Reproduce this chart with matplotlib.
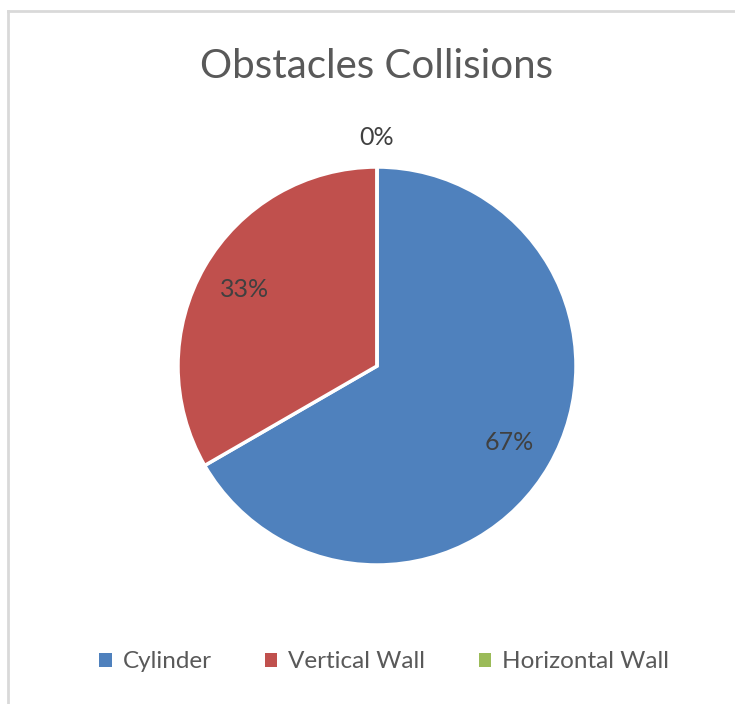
import numpy as np
import matplotlib
matplotlib.use("Agg")
import matplotlib.pyplot as plt
from matplotlib.lines import Line2D
from matplotlib.patches import Rectangle

categories = ["Cylinder", "Vertical Wall", "Horizontal Wall"]
values = [2, 1, 0]
colors = ["#4F81BD", "#C0504D", "#9BBB59"]
title = "Obstacles Collisions"

plt.rcParams['font.family'] = ['Lato', 'DejaVu Sans']

W, H = 735, 704
fig = plt.figure(figsize=(W / 100, H / 100), dpi=100)
fig.patch.set_facecolor("white")

# chart border (top and left visible)
fig.add_artist(Line2D([8 / W, 8 / W], [0, 1 - 11 / H], transform=fig.transFigure,
                      color="#D9D9D9", lw=2))
fig.add_artist(Line2D([8 / W, 1], [1 - 11 / H, 1 - 11 / H], transform=fig.transFigure,
                      color="#D9D9D9", lw=2))

cx, cy, r = 377, 366, 199
ax = fig.add_axes([(cx - r) / W, (H - cy - r) / H, 2 * r / W, 2 * r / H])
wedges, _ = ax.pie(values, colors=colors, startangle=90, counterclock=False,
                   radius=1, wedgeprops=dict(edgecolor="white", linewidth=2.5))
ax.set_xlim(-1, 1)
ax.set_ylim(-1, 1)
ax.axis("off")

total = sum(values)
for w, v in zip(wedges, values):
    ang = np.deg2rad((w.theta1 + w.theta2) / 2)
    pct = v / total * 100
    d = 0.77 if v > 0 else 1.15
    ax.text(d * np.cos(ang), d * np.sin(ang), f"{pct:.0f}%", ha="center", va="center",
            fontsize=18, color="#404040", clip_on=False)

fig.text(377 / W, 1 - 66 / H, title, ha="center", va="center", fontsize=29,
         color="#595959")

handles = [Rectangle((0, 0), 1, 1, facecolor=c, edgecolor="none") for c in colors]
fig.legend(handles, categories, loc="center", bbox_to_anchor=(384 / W, 1 - 662 / H),
           ncol=3, frameon=False, fontsize=17.5, labelcolor="#595959",
           handlelength=0.5, handleheight=0.5, handletextpad=0.45, columnspacing=2.2)

fig.savefig("out.png", dpi=100, facecolor="white")
